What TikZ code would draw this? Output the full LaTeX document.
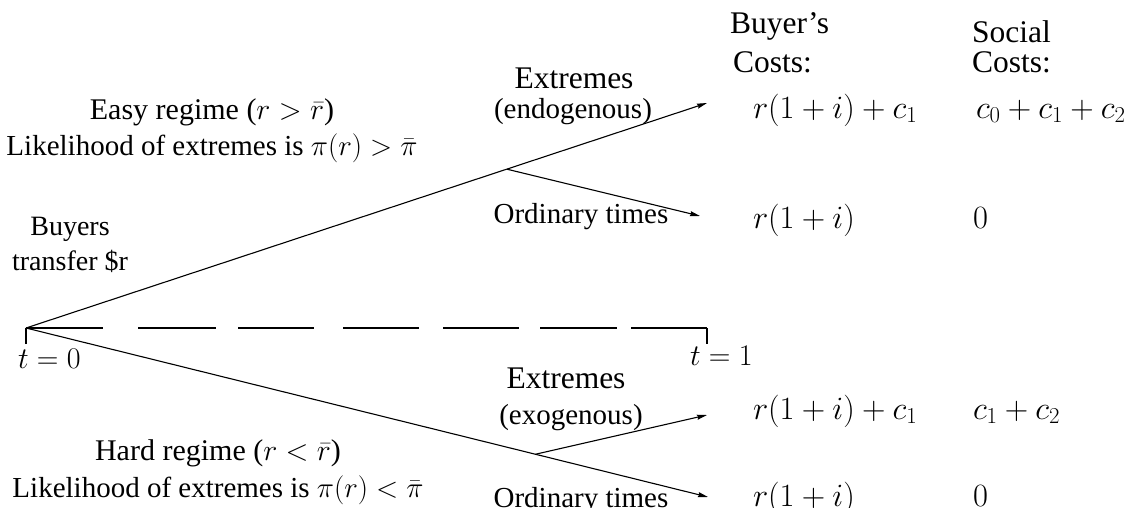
\RequirePackage{fix-cm}
\documentclass[tikz,border=0pt]{standalone}
\usepackage[no-math]{fontspec}
\setmainfont{Liberation Serif}
\usetikzlibrary{arrows.meta,calc}
\begin{document}
\begin{tikzpicture}[x=1pt,y=-1pt,
  every node/.style={inner sep=0pt,outer sep=0pt,font=\fontsize{30}{37}\selectfont},
  lbl/.style={anchor=base},
  lblw/.style={anchor=base west},
  smaller/.style={font=\fontsize{28}{34}\selectfont},
  mid/.style={font=\fontsize{29}{35}\selectfont},
  big/.style={font=\fontsize{31.5}{38}\selectfont},
  cost/.style={anchor=base west,font=\fontsize{32.5}{39}\selectfont},
  branch/.style={line width=1.1pt,-{Stealth[length=10pt,width=5pt,inset=1pt]}},
  dashseg/.style={line width=2pt},
  tick/.style={line width=2.6pt}]
\useasboundingbox (0,0) rectangle (1128,507);
% tree points
\coordinate (O) at (26,328);
\coordinate (E1) at (707,103);
\coordinate (O1) at (700,216);
\coordinate (E2) at (707,415);
\coordinate (O2) at (708,497);
\coordinate (B1) at ($(O)!0.706!(E1)$);
\coordinate (B2) at ($(O)!0.747!(O2)$);
% time axis
\coordinate (T0) at (26,344);
\coordinate (T1) at (707,344);
\coordinate (T1top) at (707,328);
\draw[tick] (T0) -- (O);
\draw[tick] (T1top) -- (T1);
\foreach \a/\b in {26/103,138/216,238/314,343/419,443/519,540/617,631/707}
  \draw[dashseg] (\a,328) -- (\b,328);
% branches
\draw[branch] (O) -- (E1);
\draw[branch] (B1) -- (O1);
\draw[branch] (O) -- (O2);
\draw[branch] (B2) -- (E2);
% left labels
\node[lbl] (easy) at (212,119) {Easy regime ($r>\bar r$)};
\node[lbl,mid] (likeE) at (212,155) {Likelihood of extremes is $\pi(r)>\bar\pi$};
\node[lbl,smaller] (buy1) at (70,235) {Buyers};
\node[lbl,smaller] (buy2) at (70,270) {transfer \$r};
\node[lblw] (t0) at (18,368) {$t=0$};
\node[lblw] (t1) at (690,365) {$t=1$};
\node[lbl] (hard) at (218,460) {Hard regime ($r<\bar r$)};
\node[lbl,mid] (likeH) at (218,497) {Likelihood of extremes is $\pi(r)<\bar\pi$};
% branch labels
\node[lbl,big] (ex1) at (574,88) {Extremes};
\node[lbl,mid] (endo) at (573,118) {(endogenous)};
\node[lbl,mid] (ord1) at (581,223) {Ordinary times};
\node[lbl,big] (ex2) at (566,388) {Extremes};
\node[lbl,mid] (exo) at (571,424) {(exogenous)};
\node[lbl,mid] (ord2) at (581,507) {Ordinary times};
% column heads
\node[lblw,big] (bh1) at (730,33) {Buyer's};
\node[lblw,big] (bh2) at (733,72) {Costs:};
\node[lblw,big] (sh1) at (972,42) {Social};
\node[lblw,big] (sh2) at (972,72) {Costs:};
% cost entries
\node[cost] (bc1) at (753,118) {$r(1+i)+c_1$};
\node[cost] (sc1) at (976,118) {$c_0+c_1+c_2$};
\node[cost] (bc2) at (753,228) {$r(1+i)$};
\node[cost] (sc2) at (973,228) {$0$};
\node[cost] (bc3) at (753,419) {$r(1+i)+c_1$};
\node[cost] (sc3) at (973,419) {$c_1+c_2$};
\node[cost] (bc4) at (753,506) {$r(1+i)$};
\node[cost] (sc4) at (973,506) {$0$};
\end{tikzpicture}
\end{document}
